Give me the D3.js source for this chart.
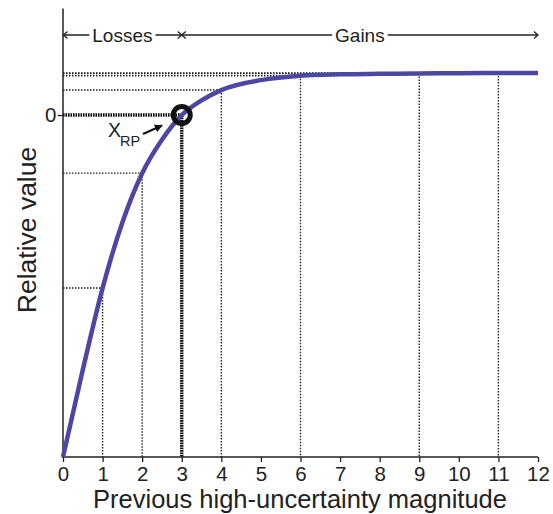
<!DOCTYPE html>
<html>
<head>
<meta charset="utf-8">
<script src="https://cdn.jsdelivr.net/npm/d3@7"></script>
<style>
  html, body { margin: 0; padding: 0; background: #fff; }
  svg { display: block; font-family: "Liberation Sans", Arial, sans-serif; }
</style>
</head>
<body>
<svg id="chart" width="553" height="514"></svg>
<script>
// ---- data ----
const curveX = [0, 0.5, 1, 1.5, 2, 2.5, 3, 3.5, 4, 5, 6, 7, 8, 9, 10, 11, 12];
const curveY = [-10, -7.45, -5.06, -3.14, -1.70, -0.72, 0, 0.43, 0.73, 1.02, 1.15, 1.19, 1.205, 1.215, 1.225, 1.23, 1.23];
const guideX = [1, 2, 4, 6, 9, 11];
const refX = 3;
const xTicks = [0, 1, 2, 3, 4, 5, 6, 7, 8, 9, 10, 11, 12];
const yTicks = [0];
const regionLabels = ["Losses", "Gains"];
const xTitle = "Previous high-uncertainty magnitude";
const yTitle = "Relative value";

// ---- layout ----
const svg = d3.select("#chart");
const x = d3.scaleLinear().domain([0, 12]).range([63, 538]);
const y = d3.scaleLinear().domain([-10, 3.13]).range([457, 8]);
const curveColor = "#4b47a3";
const valAt = v => curveY[curveX.indexOf(v)];

// guide lines (dotted)
const guides = svg.append("g").attr("fill", "none").attr("stroke", "#222");
guideX.forEach(gx => {
  const gy = valAt(gx);
  guides.append("line")
    .attr("x1", x(0)).attr("x2", x(gx)).attr("y1", y(gy)).attr("y2", y(gy))
    .attr("stroke-width", 1.4).attr("stroke-dasharray", "1.5,1.5");
  guides.append("line")
    .attr("x1", x(gx)).attr("x2", x(gx)).attr("y1", y(gy)).attr("y2", y(-10))
    .attr("stroke-width", 1.4).attr("stroke-dasharray", "1.5,1.5");
});
// reference point lines (thick dotted)
guides.append("line")
  .attr("x1", x(0)).attr("x2", x(refX)).attr("y1", y(0)).attr("y2", y(0))
  .attr("stroke-width", 3.4).attr("stroke-dasharray", "1.6,0.9").attr("stroke", "#111");
guides.append("line")
  .attr("x1", x(refX)).attr("x2", x(refX)).attr("y1", y(0)).attr("y2", y(-10))
  .attr("stroke-width", 3.4).attr("stroke-dasharray", "1.6,0.9").attr("stroke", "#111");

// axes
const xAxis = d3.axisBottom(x).tickValues(xTicks).tickSize(5).tickSizeOuter(0).tickFormat(d3.format("d"));
const gx = svg.append("g").attr("transform", `translate(0,${y(-10)})`).call(xAxis);
gx.select(".domain").attr("stroke", "#222").attr("stroke-width", 1.5).attr("d", `M${x(0)-1},0H${x(12)}`);
gx.selectAll(".tick line").attr("stroke", "#222").attr("stroke-width", 1.3);
gx.selectAll(".tick text").attr("font-size", 20.5).attr("fill", "#222").attr("y", 9).attr("dy", "0.71em")
  .attr("font-family", "Liberation Sans, Arial, sans-serif");

const yAxis = d3.axisLeft(y).tickValues(yTicks).tickSize(5).tickSizeOuter(0);
const gy = svg.append("g").attr("transform", `translate(${x(0) - 0.5},0)`).call(yAxis);
gy.select(".domain").attr("stroke", "#222").attr("stroke-width", 1.5);
gy.selectAll(".tick line").attr("stroke", "#222").attr("stroke-width", 1.3);
gy.selectAll(".tick text").attr("font-size", 20.5).attr("fill", "#222").attr("x", -6)
  .attr("font-family", "Liberation Sans, Arial, sans-serif");

// curve
const line = d3.line().x(d => x(d[0])).y(d => y(d[1])).curve(d3.curveMonotoneX);
svg.append("path")
  .datum(curveX.map((v, i) => [v, curveY[i]]))
  .attr("d", line)
  .attr("fill", "none").attr("stroke", curveColor).attr("stroke-width", 4.5);

// reference point marker
svg.append("circle")
  .attr("cx", x(refX)).attr("cy", y(0)).attr("r", 8.5)
  .attr("fill", "none").attr("stroke", "#111").attr("stroke-width", 5);

// X_RP label and arrow
const lab = svg.append("text").attr("x", 108).attr("y", 136.5).attr("fill", "#222")
  .attr("font-size", 19.5);
lab.append("tspan").text("X");
lab.append("tspan").attr("font-size", 14.5).attr("dy", 9.5).attr("dx", -1).text("RP");
svg.append("defs").append("marker")
  .attr("id", "ah").attr("viewBox", "0 0 10 10").attr("refX", 9).attr("refY", 5)
  .attr("markerWidth", 4).attr("markerHeight", 4).attr("orient", "auto")
  .append("path").attr("d", "M0,0L10,5L0,10z").attr("fill", "#111");
svg.append("line")
  .attr("x1", 143).attr("y1", 134).attr("x2", 162).attr("y2", 125.5)
  .attr("stroke", "#111").attr("stroke-width", 2).attr("marker-end", "url(#ah)");

// Losses / Gains header arrows
const ay = 35;
const hdr = svg.append("g").attr("stroke", "#222").attr("stroke-width", 1.3).attr("fill", "none");
hdr.append("line").attr("x1", x(0)).attr("x2", x(12)).attr("y1", ay).attr("y2", ay);
const chev = (tx, dir) => hdr.append("path")
  .attr("d", `M${tx + dir * 4},${ay - 3.5}L${tx},${ay}L${tx + dir * 4},${ay + 3.5}`);
chev(x(0) + 0.5, 1);
chev(x(refX), -1);
chev(x(refX), 1);
chev(x(12), -1);

const spans = [[0, refX], [refX, 12]];
regionLabels.forEach((t, i) => {
  const cx = (x(spans[i][0]) + x(spans[i][1])) / 2;
  const txt = svg.append("text").attr("x", cx).attr("y", ay).attr("dy", "0.35em")
    .attr("text-anchor", "middle").attr("font-size", 19).attr("fill", "#222").text(t);
  const bb = txt.node().getBBox();
  svg.insert("rect", () => txt.node())
    .attr("x", bb.x - 3).attr("y", ay - 3).attr("width", bb.width + 6).attr("height", 6)
    .attr("fill", "#fff");
});

// axis titles
svg.append("text").attr("x", 300).attr("y", 508).attr("text-anchor", "middle")
  .attr("font-size", 25.5).attr("fill", "#222").text(xTitle);
svg.append("text").attr("transform", "translate(36,230) rotate(-90)")
  .attr("text-anchor", "middle").attr("font-size", 26.5).attr("fill", "#222").text(yTitle);
</script>
</body>
</html>
